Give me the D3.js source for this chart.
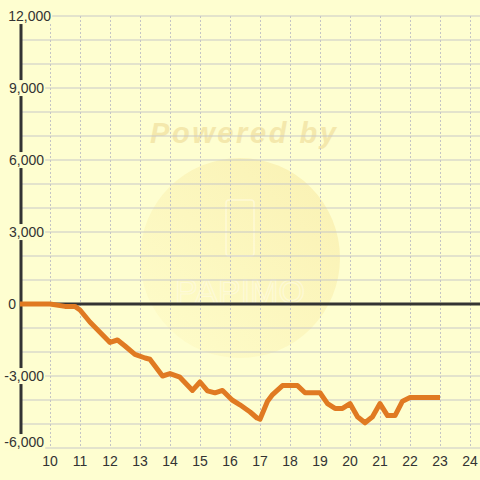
<!DOCTYPE html>
<html>
<head>
<meta charset="utf-8">
<script src="https://cdn.jsdelivr.net/npm/d3@7"></script>
<style>
  html, body { margin: 0; padding: 0; background: #fefed0; }
  svg { display: block; }
  text { font-family: "Liberation Sans", Arial, sans-serif; }
</style>
</head>
<body>
<svg id="chart" width="480" height="480"></svg>
<script>
// ---- data ----
const hours = [9, 10, 10.5, 10.83, 11, 11.33, 12, 12.25, 12.5, 12.83, 13.17, 13.33, 13.75, 14, 14.33, 14.75, 15, 15.25, 15.5, 15.75, 16.07, 16.33, 16.67, 16.9, 17, 17.25, 17.4, 17.75, 18.25, 18.5, 19, 19.25, 19.5, 19.75, 20, 20.25, 20.5, 20.75, 21, 21.25, 21.5, 21.75, 22, 23];
const values = [0, 0, -100, -100, -250, -750, -1600, -1500, -1750, -2100, -2250, -2300, -3000, -2900, -3050, -3600, -3250, -3620, -3700, -3600, -4000, -4200, -4500, -4750, -4800, -4050, -3800, -3400, -3400, -3700, -3700, -4150, -4350, -4350, -4150, -4700, -4950, -4700, -4150, -4650, -4650, -4050, -3900, -3900];
const xTicks = [10, 11, 12, 13, 14, 15, 16, 17, 18, 19, 20, 21, 22, 23, 24];
const yLabelTicks = [-6000, -3000, 0, 3000, 6000, 9000, 12000];
const yGridTicks = d3.range(-6000, 12001, 1000);

const W = 480, H = 480;
const bg = "#fefed0";
const svg = d3.select("#chart");
const x = d3.scaleLinear().domain([9, 24.3333]).range([20, 480]);
const y = d3.scaleLinear().domain([-6000, 12000]).range([448, 16]);

svg.append("rect").attr("width", W).attr("height", H).attr("fill", bg);

// watermark
const defs = svg.append("defs");
const grad = defs.append("linearGradient").attr("id", "wm").attr("x1", "0").attr("y1", "1").attr("x2", "1").attr("y2", "0");
grad.append("stop").attr("offset", "0").attr("stop-color", "#fefcc8");
grad.append("stop").attr("offset", "1").attr("stop-color", "#f8eba6");
svg.append("circle").attr("cx", 240).attr("cy", 258).attr("r", 100).attr("fill", "url(#wm)").attr("opacity", 0.7);
svg.append("text").attr("x", 150).attr("y", 143)
  .attr("font-size", 29).attr("font-weight", "bold").attr("font-style", "italic")
  .attr("fill", "#f4e8ac").attr("textLength", 186).text("Powered by");
// faint logo outline text
svg.append("rect").attr("x", 226).attr("y", 200).attr("width", 28).attr("height", 56).attr("rx", 3)
  .attr("fill", "none").attr("stroke", "#fffbe0").attr("stroke-width", 1.5).attr("opacity", 0.7);
svg.append("text").attr("x", 240).attr("y", 303).attr("text-anchor", "middle")
  .attr("font-size", 34).attr("fill", "none").attr("stroke", "#fffbe0").attr("stroke-width", 1.2)
  .attr("opacity", 0.7).attr("textLength", 130).text("PAPIMO");

// vertical dashed grid
svg.append("g").selectAll("line").data(xTicks).join("line")
  .attr("x1", d => x(d)).attr("x2", d => x(d))
  .attr("y1", y(12000)).attr("y2", y(-6000))
  .attr("stroke", "#c4c4c4").attr("stroke-width", 1).attr("stroke-dasharray", "2,2")
  .attr("shape-rendering", "crispEdges");

// horizontal grid
svg.append("g").selectAll("line").data(yGridTicks).join("line")
  .attr("x1", 20).attr("x2", W)
  .attr("y1", d => y(d)).attr("y2", d => y(d))
  .attr("stroke", "#c8c8c8").attr("stroke-width", 1.2);

// y axis line
svg.append("line").attr("x1", 21).attr("x2", 21).attr("y1", y(12000)).attr("y2", y(-6000))
  .attr("stroke", "#333").attr("stroke-width", 3);
// zero line
svg.append("line").attr("x1", 20).attr("x2", W).attr("y1", y(0)).attr("y2", y(0))
  .attr("stroke", "#333").attr("stroke-width", 3);

// y labels with background
const fmt = d3.formatLocale({decimal: ".", thousands: ",", grouping: [3], currency: ["$", ""], minus: "-"}).format(",");
const yl = svg.append("g");
yLabelTicks.forEach(v => {
  const g = yl.append("g");
  let ax = 44, dy = 0;
  if (v === 12000) { ax = 51; }
  if (v === 0) { ax = 16; }
  if (v === -6000) { dy = -6; }
  const t = g.append("text").attr("x", ax).attr("y", y(v) + dy).attr("dy", "0.36em")
    .attr("text-anchor", "end").attr("font-size", 14).attr("fill", "#333").text(fmt(v));
  const b = t.node().getBBox();
  g.insert("rect", "text").attr("x", b.x - 1).attr("y", b.y).attr("width", b.width + 2).attr("height", b.height)
    .attr("fill", bg);
});

// x labels
svg.append("g").selectAll("text").data(xTicks).join("text")
  .attr("x", d => x(d)).attr("y", 461).attr("dy", "0.36em")
  .attr("text-anchor", "middle").attr("font-size", 14).attr("fill", "#333")
  .text(d => d);

// series line
const pts = hours.map((h, i) => [h, values[i]]);
svg.append("path").datum(pts)
  .attr("d", d3.line().x(d => x(d[0])).y(d => y(d[1])))
  .attr("fill", "none").attr("stroke", "#e07a22").attr("stroke-width", 5)
  .attr("stroke-linejoin", "round");
</script>
</body>
</html>
